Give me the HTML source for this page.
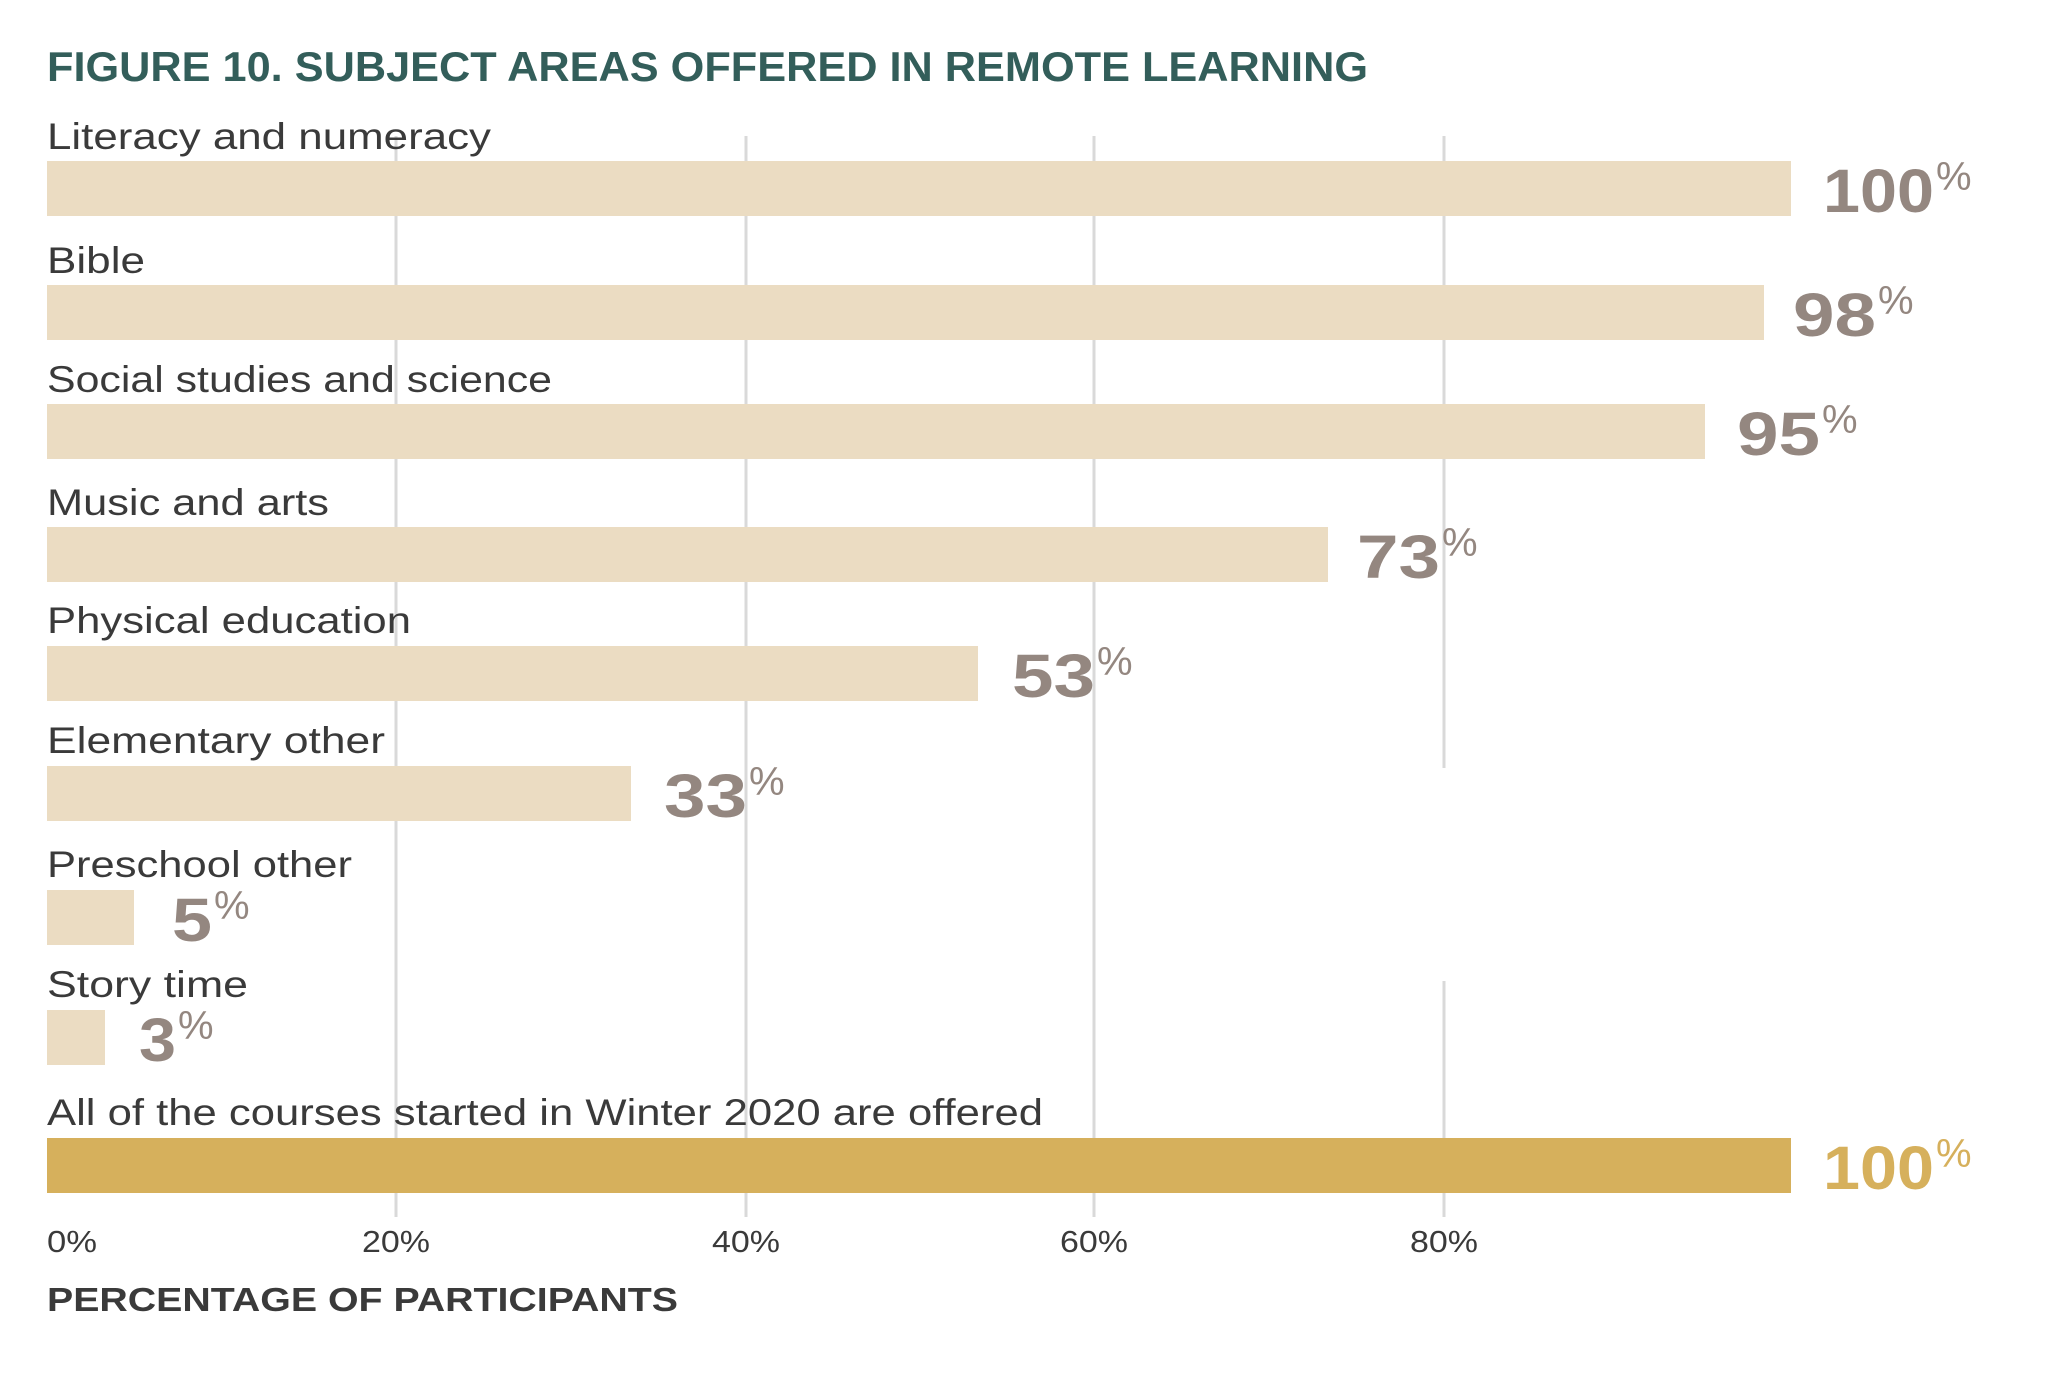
<!DOCTYPE html>
<html><head><meta charset="utf-8"><style>
html,body{margin:0;padding:0;background:#fff;}
svg{display:block;}
text{font-family:"Liberation Sans",sans-serif;}
.lab{font-size:37px;fill:#3a3a3a;}
.val{font-size:61px;font-weight:bold;fill:#948780;}
.pct{font-size:40px;fill:#948780;}
.tick{font-size:31px;fill:#3a3a3a;}
</style></head><body>
<svg width="2055" height="1380" viewBox="0 0 2055 1380" xmlns="http://www.w3.org/2000/svg">
<rect width="2055" height="1380" fill="#fff"/>
<g stroke="#d9d9d9" stroke-width="3">
<line x1="396" y1="136" x2="396" y2="1217"/>
<line x1="746" y1="136" x2="746" y2="1217"/>
<line x1="1094" y1="136" x2="1094" y2="1217"/>
<line x1="1444" y1="136" x2="1444" y2="768"/>
<line x1="1444" y1="981" x2="1444" y2="1217"/>
</g>
<text x="47" y="81" font-size="42" font-weight="bold" fill="#335e5a" textLength="1321" lengthAdjust="spacingAndGlyphs">FIGURE 10. SUBJECT AREAS OFFERED IN REMOTE LEARNING</text>

<g fill="#ebdcc2">
<rect x="47" y="161" width="1744" height="55"/>
<rect x="47" y="285" width="1717" height="55"/>
<rect x="47" y="404" width="1658" height="55"/>
<rect x="47" y="527" width="1281" height="55"/>
<rect x="47" y="646" width="931" height="55"/>
<rect x="47" y="766" width="584" height="55"/>
<rect x="47" y="890" width="87" height="55"/>
<rect x="47" y="1010" width="58" height="55"/>
</g>
<rect x="47" y="1138" width="1744" height="55" fill="#d6b05c"/>

<g class="lab">
<text x="47" y="149" textLength="444" lengthAdjust="spacingAndGlyphs">Literacy and numeracy</text>
<text x="47" y="273" textLength="98" lengthAdjust="spacingAndGlyphs">Bible</text>
<text x="47" y="392" textLength="505" lengthAdjust="spacingAndGlyphs">Social studies and science</text>
<text x="47" y="515" textLength="282" lengthAdjust="spacingAndGlyphs">Music and arts</text>
<text x="47" y="633" textLength="364" lengthAdjust="spacingAndGlyphs">Physical education</text>
<text x="47" y="753" textLength="338" lengthAdjust="spacingAndGlyphs">Elementary other</text>
<text x="47" y="877" textLength="305" lengthAdjust="spacingAndGlyphs">Preschool other</text>
<text x="47" y="997" textLength="201" lengthAdjust="spacingAndGlyphs">Story time</text>
<text x="47" y="1125" textLength="996" lengthAdjust="spacingAndGlyphs">All of the courses started in Winter 2020 are offered</text>
</g>

<g class="val">
<text x="1823" y="212" textLength="111" lengthAdjust="spacingAndGlyphs">100</text>
<text x="1793" y="336" textLength="83" lengthAdjust="spacingAndGlyphs">98</text>
<text x="1737" y="455" textLength="83" lengthAdjust="spacingAndGlyphs">95</text>
<text x="1357" y="578" textLength="83" lengthAdjust="spacingAndGlyphs">73</text>
<text x="1012" y="697" textLength="83" lengthAdjust="spacingAndGlyphs">53</text>
<text x="664" y="817" textLength="83" lengthAdjust="spacingAndGlyphs">33</text>
<text x="172" y="941" textLength="40" lengthAdjust="spacingAndGlyphs">5</text>
<text x="139" y="1061" textLength="37" lengthAdjust="spacingAndGlyphs">3</text>
<text x="1823" y="1189" textLength="111" lengthAdjust="spacingAndGlyphs" fill="#d6b05c">100</text>
</g>
<g class="pct">
<text x="1936" y="190">%</text>
<text x="1878" y="314">%</text>
<text x="1822" y="433">%</text>
<text x="1442" y="556">%</text>
<text x="1097" y="675">%</text>
<text x="749" y="795">%</text>
<text x="214" y="919">%</text>
<text x="178" y="1039">%</text>
<text x="1936" y="1167" fill="#d6b05c">%</text>
</g>

<g class="tick">
<text x="47" y="1252" textLength="50" lengthAdjust="spacingAndGlyphs">0%</text>
<text x="362" y="1252" textLength="68" lengthAdjust="spacingAndGlyphs">20%</text>
<text x="712" y="1252" textLength="68" lengthAdjust="spacingAndGlyphs">40%</text>
<text x="1060" y="1252" textLength="68" lengthAdjust="spacingAndGlyphs">60%</text>
<text x="1410" y="1252" textLength="68" lengthAdjust="spacingAndGlyphs">80%</text>
</g>
<text x="47" y="1311" font-size="33" font-weight="bold" fill="#3a3a3a" textLength="631" lengthAdjust="spacingAndGlyphs">PERCENTAGE OF PARTICIPANTS</text>
</svg>
</body></html>
